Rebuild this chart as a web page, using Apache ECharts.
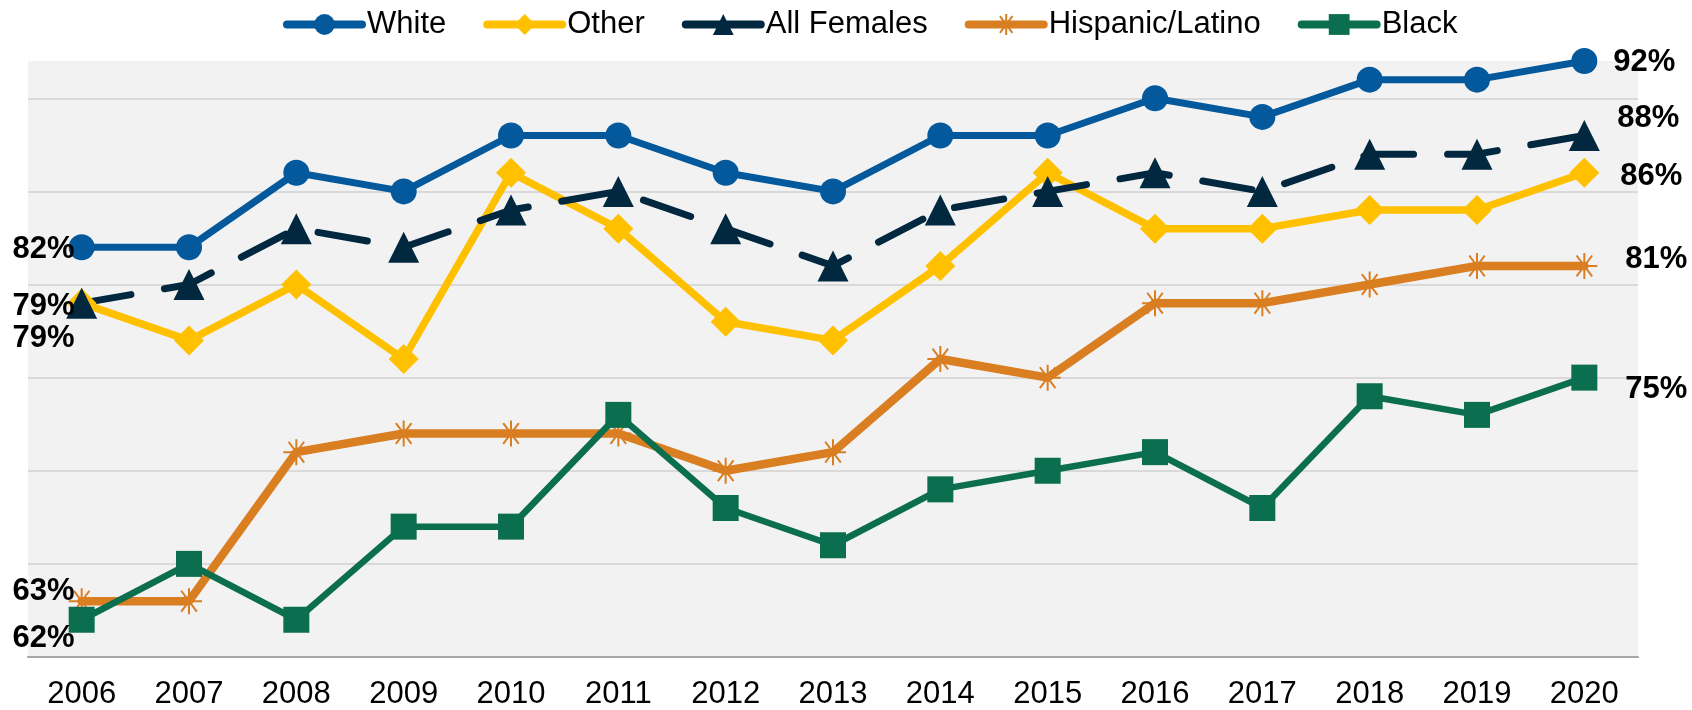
<!DOCTYPE html>
<html>
<head>
<meta charset="utf-8">
<script src="https://cdn.jsdelivr.net/npm/echarts@6/dist/echarts.min.js"></script>
<style>
  html, body { margin: 0; padding: 0; background: #fff; }
  #main { width: 1692px; height: 710px; }
</style>
</head>
<body>
<div id="main"></div>
<script>
// data (percent)
const years = ['2006', '2007', '2008', '2009', '2010', '2011', '2012', '2013', '2014', '2015', '2016', '2017', '2018', '2019', '2020'];
const white = [82, 82, 86, 85, 88, 88, 86, 85, 88, 88, 90, 89, 91, 91, 92];
const other = [79, 77, 80, 76, 86, 83, 78, 77, 81, 86, 83, 83, 84, 84, 86];
const allFemales = [79, 80, 83, 82, 84, 85, 83, 81, 84, 85, 86, 85, 87, 87, 88];
const hispanic = [63, 63, 71, 72, 72, 72, 70, 71, 76, 75, 79, 79, 80, 81, 81];
const black = [62, 65, 62, 67, 67, 73, 68, 66, 69, 70, 71, 68, 74, 73, 75];

const chart = echarts.init(document.getElementById('main'), null, { renderer: 'canvas' });

const FONT = '"Liberation Sans", Arial, sans-serif';
const asterisk = 'path://M0,-10L0,10M-10,0L10,0M-6,-8L6,8M-6,8L6,-8';

// first / last point get a value label; offsets keep them clear of each other
function withEndLabels(values, leftOffset, rightOffset) {
  return values.map(function (v, i) {
    if (i === 0 || i === values.length - 1) {
      const isLeft = i === 0;
      return {
        value: v,
        label: {
          show: true,
          position: 'inside',
          align: isLeft ? 'right' : 'left',
          verticalAlign: 'middle',
          offset: isLeft ? leftOffset : rightOffset,
          formatter: '{c}%',
          color: '#000',
          fontFamily: FONT,
          fontWeight: 'bold',
          fontSize: 31
        }
      };
    }
    return v;
  });
}

function lineSeries(name, values, color, symbol, size, width, leftOffset, rightOffset, extra) {
  const s = {
    name: name,
    type: 'line',
    data: withEndLabels(values, leftOffset, rightOffset),
    symbol: symbol,
    symbolSize: size,
    showAllSymbol: true,
    color: color,
    lineStyle: { color: color, width: width, cap: 'round', join: 'round' },
    itemStyle: { color: color, opacity: 1 },
    emphasis: { disabled: true },
    animation: false
  };
  return Object.assign(s, extra || {});
}

const option = {
  backgroundColor: '#fff',
  animation: false,
  legend: {
    left: 278,
    top: 4,
    itemWidth: 75,
    itemHeight: 26,
    itemGap: 37,
    lineStyle: { width: 8, type: 'solid', cap: 'round' },
    textStyle: { fontFamily: FONT, fontSize: 31, color: '#000' },
    data: ['White', 'Other', 'All Females', 'Hispanic/Latino', 'Black']
  },
  grid: {
    left: 28,
    right: 54,
    top: 61,
    bottom: 52,
    show: true,
    backgroundColor: '#f2f2f2',
    borderWidth: 0
  },
  xAxis: {
    type: 'category',
    data: years,
    boundaryGap: true,
    axisLine: { lineStyle: { color: '#a6a6a6', width: 2 } },
    axisTick: { alignWithLabel: true, length: 7, lineStyle: { color: '#a6a6a6', width: 2 } },
    axisLabel: { fontFamily: FONT, fontSize: 31, color: '#000', margin: 22 }
  },
  yAxis: {
    type: 'value',
    min: 60,
    max: 92,
    interval: 5,
    axisLabel: { show: false },
    axisLine: { show: false },
    axisTick: { show: false },
    splitLine: {
      show: true,
      showMinLine: false,
      showMaxLine: false,
      lineStyle: {
        color: ['#d9d9d9', '#d9d9d9', '#d9d9d9', '#d9d9d9', '#d9d9d9', '#d9d9d9', '#d9d9d9', 'rgba(0,0,0,0)'],
        width: 2
      }
    }
  },
  series: [
    lineSeries('White', white, '#04599c', 'circle', 26, 7, [-7, 2], [29, 1]),
    lineSeries('Other', other, '#ffc000', 'diamond', 30, 7.5, [-7, 35], [36, 4]),
    lineSeries('All Females', allFemales, '#01283f', 'triangle', 31, 7, [-7, 3], [33, -17], {
      lineStyle: { color: '#01283f', width: 7, type: [50, 34], cap: 'round', join: 'round' }
    }),
    lineSeries('Hispanic/Latino', hispanic, '#d97e21', asterisk, 26, 8.5, [-7, -10], [41, -6], {
      itemStyle: { color: '#d97e21', borderColor: '#d97e21', borderWidth: 2, opacity: 1 }
    }),
    lineSeries('Black', black, '#0b6e4e', 'rect', 26, 6.5, [-7, 19], [41, 12])
  ]
};

chart.setOption(option);
</script>
</body>
</html>
